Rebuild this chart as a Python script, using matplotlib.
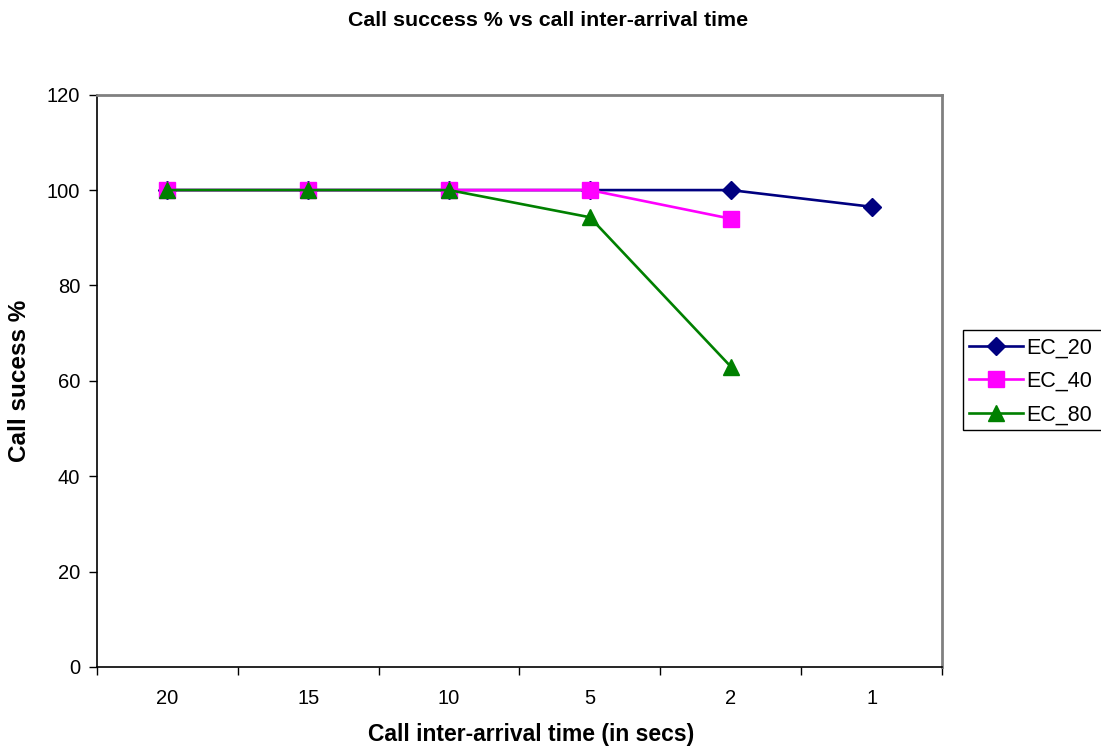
import matplotlib
matplotlib.use("Agg")
import matplotlib.pyplot as plt
from matplotlib.patches import Rectangle

plt.rcParams['font.family'] = ['Liberation Sans', 'DejaVu Sans']

categories = ["20", "15", "10", "5", "2", "1"]
ec_20 = [100, 100, 100, 100, 100, 96.5]
ec_40 = [100, 100, 100, 100, 94.0]
ec_80 = [100, 100, 100, 94.3, 63.0]
y_ticks = [0, 20, 40, 60, 80, 100, 120]

W, H = 1101, 748
fig = plt.figure(figsize=(W / 100, H / 100), dpi=100)
ax = fig.add_axes([97 / W, (H - 667) / H, (942 - 97) / W, (667 - 94.7) / H])

x20 = list(range(len(ec_20)))
x40 = list(range(len(ec_40)))
x80 = list(range(len(ec_80)))

ax.plot(x20, ec_20, color="#000080", lw=1.9, marker="D", ms=9.5, label="EC_20", zorder=3)
ax.plot(x40, ec_40, color="#FF00FF", lw=1.9, marker="s", ms=11, label="EC_40", zorder=4)
ax.plot(x80, ec_80, color="#008000", lw=1.9, marker="^", ms=12, label="EC_80", zorder=5)

ax.set_xlim(-0.5, len(categories) - 0.5)
ax.set_ylim(0, 120)
ax.set_yticks(y_ticks)
ax.set_xticks(range(len(categories)))
ax.set_xticklabels(categories)
ax.set_xticks([i + 0.5 for i in range(-1, len(categories))], minor=True)
ax.tick_params(axis="x", which="major", length=0, pad=16, labelsize=14.5)
ax.tick_params(axis="x", which="minor", length=6, width=1.0, direction="out", color="black")
ax.tick_params(axis="y", length=6, width=1.0, direction="out", labelsize=14.5, pad=6)

for side in ("top", "right"):
    ax.spines[side].set_color("#808080")
    ax.spines[side].set_linewidth(2)
for side in ("left", "bottom"):
    ax.spines[side].set_color("black")
    ax.spines[side].set_linewidth(1.2)

fig.text(548 / W, 1 - 20 / H, "Call success % vs call inter-arrival time",
         ha="center", va="center", fontsize=15.4, fontweight="bold")
fig.text(531 / W, 1 - 734 / H, "Call inter-arrival time (in secs)",
         ha="center", va="center", fontsize=16.5, fontweight="bold")
fig.text(20 / W, 1 - 381 / H, "Call sucess %", rotation=90,
         ha="center", va="center", fontsize=17.5, fontweight="bold")

# legend box runs past the right edge of the figure
fig.add_artist(Rectangle((963 / W, 1 - 430 / H), 160 / W, 100 / H,
                         transform=fig.transFigure, facecolor="white",
                         edgecolor="black", linewidth=1.0, zorder=1))
leg = fig.legend(loc="upper left", bbox_to_anchor=(963 / W, 1 - 331 / H),
                 fontsize=15.5, handlelength=2.5, handletextpad=0.15,
                 labelspacing=0.58, borderpad=0.3, borderaxespad=0,
                 frameon=False)
leg.set_zorder(2)

fig.savefig("out.png", dpi=100)
